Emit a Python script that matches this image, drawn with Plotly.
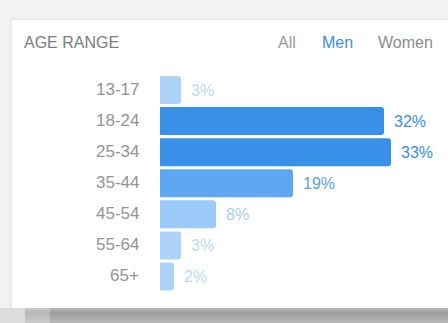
import plotly.graph_objects as go

# ---- data ----
age_ranges = ["13-17", "18-24", "25-34", "35-44", "45-54", "55-64", "65+"]
men_share = [3, 32, 33, 19, 8, 3, 2]
bar_colors = ["#aed3fb", "#3990e8", "#3990e8", "#5ea8f3", "#9ccaf9", "#aed3fb", "#aed3fb"]
label_colors = ["#bcd8f5", "#3a8ee0", "#3a8ee0", "#5da2e6", "#a9cbf1", "#bcd8f5", "#bcd8f5"]
title_text = "AGE RANGE"
tabs = ["All", "Men", "Women"]
tab_colors = ["#9a9a9a", "#3b8fe0", "#8c8c8c"]
tab_x = [287, 337, 405]

W, H = 448, 323
FONT = "Liberation Sans, Helvetica, Arial, sans-serif"

fig = go.Figure()
fig.add_trace(go.Bar(
    x=men_share, y=age_ranges, orientation="h",
    marker=dict(color=bar_colors, line=dict(width=0), cornerradius=3),
    width=0.9, hoverinfo="skip",
))

px = lambda v: v / W
py = lambda v: 1 - v / H

shapes = []
# lighter left corner of shadow
shapes.append(dict(type="rect", xref="paper", yref="paper", layer="below",
                   x0=0, x1=1, y0=0, y1=py(308),
                   fillcolor="#dcdcdc", line=dict(width=0)))
# bottom shadow bands, fading in from the left
shade = ["#b4b4b4", "#a6a6a6", "#9f9f9f", "#a2a2a2", "#a8a8a8", "#aeaeae", "#b4b4b4", "#b9b9b9"]
for i, c in enumerate(shade):
    y0 = 308 + i * 2
    shapes.append(dict(type="rect", xref="paper", yref="paper", layer="below",
                       x0=px(50), x1=1, y0=py(y0 + 2), y1=py(y0),
                       fillcolor=c, line=dict(width=0)))
    shapes.append(dict(type="rect", xref="paper", yref="paper", layer="below",
                       x0=px(25), x1=px(50), y0=py(y0 + 2), y1=py(y0),
                       fillcolor=c, opacity=0.55, line=dict(width=0)))
# top/left soft edge
shapes.append(dict(type="rect", xref="paper", yref="paper", layer="below",
                   x0=px(10), x1=1, y0=py(308), y1=py(18),
                   fillcolor="#ebebeb", line=dict(width=0)))
# card
shapes.append(dict(type="rect", xref="paper", yref="paper", layer="below",
                   x0=px(12), x1=1, y0=py(308), y1=py(20),
                   fillcolor="#ffffff", line=dict(width=0)))

annotations = []
annotations.append(dict(xref="paper", yref="paper", x=px(22), y=py(43),
                        text=title_text, showarrow=False, xanchor="left", yanchor="middle",
                        font=dict(family=FONT, size=16, color="#7c7c7c")))
for t, c, xx in zip(tabs, tab_colors, tab_x):
    annotations.append(dict(xref="paper", yref="paper", x=px(xx), y=py(43),
                            text=t, showarrow=False, xanchor="center", yanchor="middle",
                            font=dict(family=FONT, size=16, color=c)))
for cat, v, lc in zip(age_ranges, men_share, label_colors):
    annotations.append(dict(xref="paper", yref="y", x=px(141), y=cat, yshift=1,
                            text=cat, showarrow=False, xanchor="right", yanchor="middle",
                            font=dict(family=FONT, size=17, color="#939393")))
    annotations.append(dict(xref="x", yref="y", x=v, y=cat, xshift=8,
                            text=f"{v}%", showarrow=False, xanchor="left", yanchor="middle",
                            font=dict(family=FONT, size=16, color=lc)))

# pixel mapping: 0% at x=160px, 7px per %; categories centered 90..276.5px
x0_px, scale = 160, 7.0
y_first, pitch = 90, 31.08
fig.update_layout(
    width=W, height=H,
    margin=dict(l=0, r=0, t=0, b=0),
    paper_bgcolor="#f2f2f2", plot_bgcolor="rgba(0,0,0,0)",
    showlegend=False,
    shapes=shapes, annotations=annotations,
    xaxis=dict(range=[-x0_px / scale, (W - x0_px) / scale], visible=False, fixedrange=True),
    yaxis=dict(range=[(H - y_first) / pitch, -y_first / pitch], visible=False,
               fixedrange=True, categoryorder="array", categoryarray=age_ranges),
    bargap=0.1,
)

fig.write_html("out.html", config={"displayModeBar": False},
               post_script="document.body.style.margin='0';document.body.style.overflow='hidden';")
